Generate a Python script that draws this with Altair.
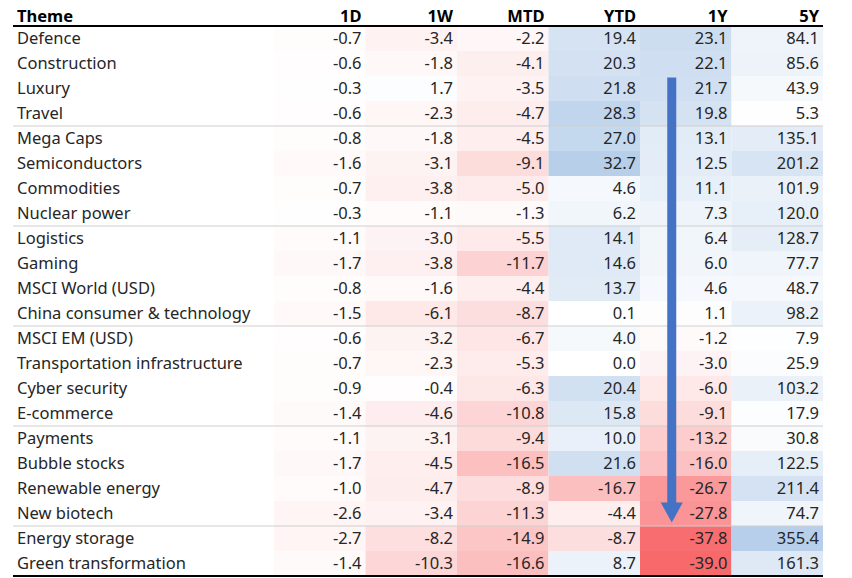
import altair as alt
import pandas as pd

themes = ["Defence", "Construction", "Luxury", "Travel", "Mega Caps", "Semiconductors",
          "Commodities", "Nuclear power", "Logistics", "Gaming", "MSCI World (USD)",
          "China consumer & technology", "MSCI EM (USD)", "Transportation infrastructure",
          "Cyber security", "E-commerce", "Payments", "Bubble stocks", "Renewable energy",
          "New biotech", "Energy storage", "Green transformation"]
columns = ["1D", "1W", "MTD", "YTD", "1Y", "5Y"]
d1 = [-0.7, -0.6, -0.3, -0.6, -0.8, -1.6, -0.7, -0.3, -1.1, -1.7, -0.8, -1.5, -0.6, -0.7, -0.9, -1.4, -1.1, -1.7, -1.0, -2.6, -2.7, -1.4]
w1 = [-3.4, -1.8, 1.7, -2.3, -1.8, -3.1, -3.8, -1.1, -3.0, -3.8, -1.6, -6.1, -3.2, -2.3, -0.4, -4.6, -3.1, -4.5, -4.7, -3.4, -8.2, -10.3]
mtd = [-2.2, -4.1, -3.5, -4.7, -4.5, -9.1, -5.0, -1.3, -5.5, -11.7, -4.4, -8.7, -6.7, -5.3, -6.3, -10.8, -9.4, -16.5, -8.9, -11.3, -14.9, -16.6]
ytd = [19.4, 20.3, 21.8, 28.3, 27.0, 32.7, 4.6, 6.2, 14.1, 14.6, 13.7, 0.1, 4.0, 0.0, 20.4, 15.8, 10.0, 21.6, -16.7, -4.4, -8.7, 8.7]
y1 = [23.1, 22.1, 21.7, 19.8, 13.1, 12.5, 11.1, 7.3, 6.4, 6.0, 4.6, 1.1, -1.2, -3.0, -6.0, -9.1, -13.2, -16.0, -26.7, -27.8, -37.8, -39.0]
y5 = [84.1, 85.6, 43.9, 5.3, 135.1, 201.2, 101.9, 120.0, 128.7, 77.7, 48.7, 98.2, 7.9, 25.9, 103.2, 17.9, 30.8, 122.5, 211.4, 74.7, 355.4, 161.3]
group_ends = ["Travel", "Nuclear power", "China consumer & technology", "E-commerce", "New biotech"]
arrow_col = ["1Y"]
arrow_start = ["Luxury"]
arrow_end = ["New biotech"]

series = dict(zip(columns, [d1, w1, mtd, ytd, y1, y5]))
long = pd.DataFrame([{"Theme": t, "col": c, "v": series[c][i], "label": f"{series[c][i]:.1f}"}
                     for c in columns for i, t in enumerate(themes)])
theme_df = pd.DataFrame({"Theme": themes})
col_df = pd.DataFrame({"col": columns})
sep_df = pd.DataFrame({"Theme": group_ends})
arrow_df = pd.DataFrame({"col": arrow_col, "start": arrow_start, "end": arrow_end})
one = pd.DataFrame({"a": [0]})

ROW_H = 25
H = ROW_H * len(themes)
LEFT_W = 261
RIGHT_W = 549
STEP = RIGHT_W / len(columns)
FONT = "Noto Sans"
FS = 16.5
TXT = "#262626"
SEP = "#cfcfcf"
ARROW = "#4472C4"

yscale = alt.Scale(domain=themes, paddingInner=0, paddingOuter=0)
xscale = alt.Scale(domain=columns, paddingInner=0, paddingOuter=0)

def Y(field):
    return alt.Y(f"{field}:N", scale=yscale, axis=None)

def X(field):
    return alt.X(f"{field}:N", scale=xscale, axis=None)

cells = alt.Chart(long).transform_calculate(
    t="datum.v < 0 ? datum.v / 39 : (datum.col == '5Y' ? datum.v / 355.4 : datum.v / 33)"
).mark_rect().encode(
    x=X("col"), y=Y("Theme"),
    color=alt.Color("t:Q", scale=alt.Scale(domain=[-1, 0, 1],
                                           range=["#F8696B", "#FFFFFF", "#B7CFEA"],
                                           interpolate="rgb"),
                    legend=None),
)
nums = alt.Chart(long).mark_text(font=FONT, fontSize=FS, color=TXT, align="right",
                                 baseline="alphabetic", dx=STEP / 2 - 4, dy=5.5).encode(
    x=X("col"), y=Y("Theme"), text="label:N")

seps = alt.Chart(sep_df).mark_rule(color=SEP, strokeWidth=1, yOffset=ROW_H / 2).encode(
    y=Y("Theme"), x=alt.value(-LEFT_W), x2=alt.value(RIGHT_W))

top_line = alt.Chart(one).mark_rule(color="black", strokeWidth=2).encode(
    x=alt.value(-LEFT_W), x2=alt.value(RIGHT_W), y=alt.value(0))
bot_line = alt.Chart(one).mark_rule(color="black", strokeWidth=2).encode(
    x=alt.value(-LEFT_W), x2=alt.value(RIGHT_W), y=alt.value(H))

head_r = alt.Chart(col_df).mark_text(font=FONT, fontSize=16.5, fontWeight="bold", color="black",
                                     align="right", baseline="alphabetic",
                                     dx=STEP / 2 - 4).encode(
    x=X("col"), y=alt.value(-4), text="col:N")

labels = alt.Chart(theme_df).mark_text(font=FONT, fontSize=FS, color=TXT, align="left",
                                       baseline="alphabetic", dy=5.5).encode(
    x=alt.value(-LEFT_W + 4), y=Y("Theme"), text="Theme:N")
head_l = alt.Chart(one).mark_text(font=FONT, fontSize=16.5, fontWeight="bold", color="black",
                                  align="left", baseline="alphabetic").encode(
    x=alt.value(-LEFT_W + 4), y=alt.value(-4), text=alt.value("Theme"))

shaft = alt.Chart(arrow_df).mark_rule(color=ARROW, strokeWidth=9, strokeCap="butt",
                                      xOffset=-14, yOffset=-11, y2Offset=-8).encode(
    x=X("col"), y=Y("start"), y2=alt.Y2("end:N"))
head = alt.Chart(arrow_df).mark_point(shape="M-1,-0.9L1,-0.9L0,0.9Z", size=484, filled=True,
                                      opacity=1, color=ARROW, xOffset=-14, yOffset=-1).encode(
    x=X("col"), y=Y("end"))

chart = alt.layer(cells, nums, seps, top_line, bot_line, head_r, labels, head_l,
                  shaft, head).properties(
    width=RIGHT_W, height=H,
    autosize=alt.AutoSizeParams(type="none"),
    padding={"left": 5 + LEFT_W, "top": 18, "right": 5, "bottom": 2},
).configure_view(strokeWidth=0)

chart.save("out.html", embed_options={"renderer": "svg", "actions": False})
